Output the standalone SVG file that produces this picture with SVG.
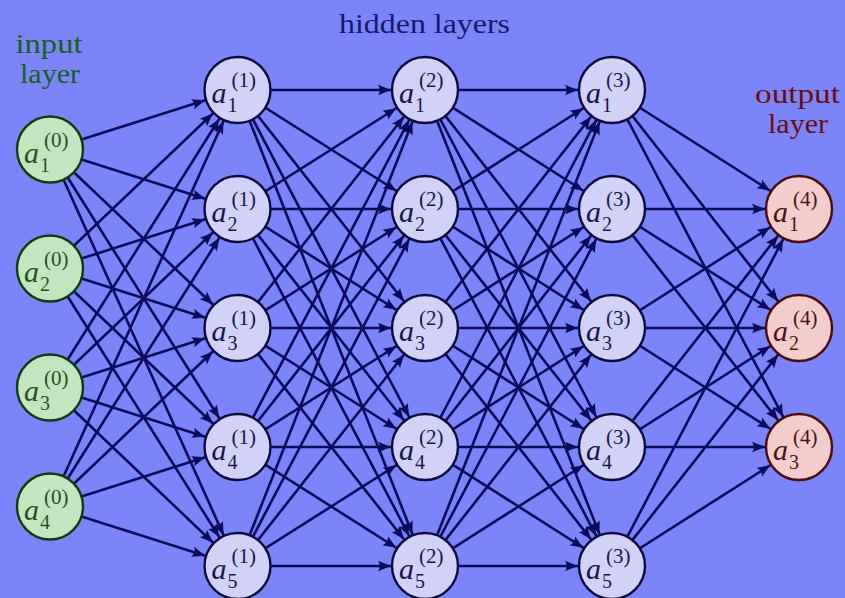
<svg xmlns="http://www.w3.org/2000/svg" width="845" height="598" viewBox="0 0 845 598" font-family="'Liberation Serif', 'Times New Roman', serif">
<style>
text{font-family:'Liberation Serif','Times New Roman',serif}
.lbl{font-size:27px}
.a{font-style:italic;font-size:30px}
.s{font-size:20px}
.p{font-size:21px}
.in circle{fill:#c3e6c1;stroke:#0c3d0c;stroke-width:2.4}
.in text{fill:#1d561d}
.hd circle{fill:#d1d2f5;stroke:#0c0c3c;stroke-width:2.4}
.hd text{fill:#16164e}
.out circle{fill:#f3cdcc;stroke:#4a0b0b;stroke-width:2.4}
.out text{fill:#4e1010}
#edges line{stroke:#0c0c5e;stroke-width:2.6;marker-end:url(#arr)}
</style>
<defs>
<marker id="arr" markerUnits="userSpaceOnUse" orient="auto" overflow="visible" refX="0" refY="0" markerWidth="1" markerHeight="1">
<path d="M-34,0 L-47,-5.2 Q-43.5,0 -47,5.2 Z" fill="#0c0c5e"/>
</marker>
</defs>
<rect width="845" height="598" fill="#7b85f9"/>
<text class="lbl" x="49" y="53" text-anchor="middle" fill="#1b5e1b" textLength="67" lengthAdjust="spacingAndGlyphs">input</text>
<text class="lbl" x="50" y="83" text-anchor="middle" fill="#1b5e1b" textLength="60" lengthAdjust="spacingAndGlyphs">layer</text>
<text class="lbl" x="424.5" y="33" text-anchor="middle" fill="#17176e" textLength="171" lengthAdjust="spacingAndGlyphs">hidden layers</text>
<text class="lbl" x="797.5" y="103" text-anchor="middle" fill="#6a0d0d" textLength="85" lengthAdjust="spacingAndGlyphs">output</text>
<text class="lbl" x="798" y="133" text-anchor="middle" fill="#6a0d0d" textLength="60" lengthAdjust="spacingAndGlyphs">layer</text>
<g id="edges">
<line x1="50" y1="149.5" x2="237.5" y2="90"/><line x1="50" y1="149.5" x2="237.5" y2="209"/><line x1="50" y1="149.5" x2="237.5" y2="328"/><line x1="50" y1="149.5" x2="237.5" y2="447"/><line x1="50" y1="149.5" x2="237.5" y2="566"/>
<line x1="50" y1="268.5" x2="237.5" y2="90"/><line x1="50" y1="268.5" x2="237.5" y2="209"/><line x1="50" y1="268.5" x2="237.5" y2="328"/><line x1="50" y1="268.5" x2="237.5" y2="447"/><line x1="50" y1="268.5" x2="237.5" y2="566"/>
<line x1="50" y1="387.5" x2="237.5" y2="90"/><line x1="50" y1="387.5" x2="237.5" y2="209"/><line x1="50" y1="387.5" x2="237.5" y2="328"/><line x1="50" y1="387.5" x2="237.5" y2="447"/><line x1="50" y1="387.5" x2="237.5" y2="566"/>
<line x1="50" y1="506.5" x2="237.5" y2="90"/><line x1="50" y1="506.5" x2="237.5" y2="209"/><line x1="50" y1="506.5" x2="237.5" y2="328"/><line x1="50" y1="506.5" x2="237.5" y2="447"/><line x1="50" y1="506.5" x2="237.5" y2="566"/>
<line x1="237.5" y1="90" x2="425" y2="90"/><line x1="237.5" y1="90" x2="425" y2="209"/><line x1="237.5" y1="90" x2="425" y2="328"/><line x1="237.5" y1="90" x2="425" y2="447"/><line x1="237.5" y1="90" x2="425" y2="566"/>
<line x1="237.5" y1="209" x2="425" y2="90"/><line x1="237.5" y1="209" x2="425" y2="209"/><line x1="237.5" y1="209" x2="425" y2="328"/><line x1="237.5" y1="209" x2="425" y2="447"/><line x1="237.5" y1="209" x2="425" y2="566"/>
<line x1="237.5" y1="328" x2="425" y2="90"/><line x1="237.5" y1="328" x2="425" y2="209"/><line x1="237.5" y1="328" x2="425" y2="328"/><line x1="237.5" y1="328" x2="425" y2="447"/><line x1="237.5" y1="328" x2="425" y2="566"/>
<line x1="237.5" y1="447" x2="425" y2="90"/><line x1="237.5" y1="447" x2="425" y2="209"/><line x1="237.5" y1="447" x2="425" y2="328"/><line x1="237.5" y1="447" x2="425" y2="447"/><line x1="237.5" y1="447" x2="425" y2="566"/>
<line x1="237.5" y1="566" x2="425" y2="90"/><line x1="237.5" y1="566" x2="425" y2="209"/><line x1="237.5" y1="566" x2="425" y2="328"/><line x1="237.5" y1="566" x2="425" y2="447"/><line x1="237.5" y1="566" x2="425" y2="566"/>
<line x1="425" y1="90" x2="612" y2="90"/><line x1="425" y1="90" x2="612" y2="209"/><line x1="425" y1="90" x2="612" y2="328"/><line x1="425" y1="90" x2="612" y2="447"/><line x1="425" y1="90" x2="612" y2="566"/>
<line x1="425" y1="209" x2="612" y2="90"/><line x1="425" y1="209" x2="612" y2="209"/><line x1="425" y1="209" x2="612" y2="328"/><line x1="425" y1="209" x2="612" y2="447"/><line x1="425" y1="209" x2="612" y2="566"/>
<line x1="425" y1="328" x2="612" y2="90"/><line x1="425" y1="328" x2="612" y2="209"/><line x1="425" y1="328" x2="612" y2="328"/><line x1="425" y1="328" x2="612" y2="447"/><line x1="425" y1="328" x2="612" y2="566"/>
<line x1="425" y1="447" x2="612" y2="90"/><line x1="425" y1="447" x2="612" y2="209"/><line x1="425" y1="447" x2="612" y2="328"/><line x1="425" y1="447" x2="612" y2="447"/><line x1="425" y1="447" x2="612" y2="566"/>
<line x1="425" y1="566" x2="612" y2="90"/><line x1="425" y1="566" x2="612" y2="209"/><line x1="425" y1="566" x2="612" y2="328"/><line x1="425" y1="566" x2="612" y2="447"/><line x1="425" y1="566" x2="612" y2="566"/>
<line x1="612" y1="90" x2="799" y2="209"/><line x1="612" y1="90" x2="799" y2="328"/><line x1="612" y1="90" x2="799" y2="447"/>
<line x1="612" y1="209" x2="799" y2="209"/><line x1="612" y1="209" x2="799" y2="328"/><line x1="612" y1="209" x2="799" y2="447"/>
<line x1="612" y1="328" x2="799" y2="209"/><line x1="612" y1="328" x2="799" y2="328"/><line x1="612" y1="328" x2="799" y2="447"/>
<line x1="612" y1="447" x2="799" y2="209"/><line x1="612" y1="447" x2="799" y2="328"/><line x1="612" y1="447" x2="799" y2="447"/>
<line x1="612" y1="566" x2="799" y2="209"/><line x1="612" y1="566" x2="799" y2="328"/><line x1="612" y1="566" x2="799" y2="447"/>
</g>
<g id="a0_1" class="in" transform="translate(50,149.5)"><circle r="33"/><text class="a" x="-26" y="13">a</text><text class="s" x="-10" y="22">1</text><text class="p" x="-6" y="-3">(0)</text></g>
<g id="a0_2" class="in" transform="translate(50,268.5)"><circle r="33"/><text class="a" x="-26" y="13">a</text><text class="s" x="-10" y="22">2</text><text class="p" x="-6" y="-3">(0)</text></g>
<g id="a0_3" class="in" transform="translate(50,387.5)"><circle r="33"/><text class="a" x="-26" y="13">a</text><text class="s" x="-10" y="22">3</text><text class="p" x="-6" y="-3">(0)</text></g>
<g id="a0_4" class="in" transform="translate(50,506.5)"><circle r="33"/><text class="a" x="-26" y="13">a</text><text class="s" x="-10" y="22">4</text><text class="p" x="-6" y="-3">(0)</text></g>
<g id="a1_1" class="hd" transform="translate(237.5,90)"><circle r="33"/><text class="a" x="-26" y="13">a</text><text class="s" x="-10" y="22">1</text><text class="p" x="-6" y="-3">(1)</text></g>
<g id="a1_2" class="hd" transform="translate(237.5,209)"><circle r="33"/><text class="a" x="-26" y="13">a</text><text class="s" x="-10" y="22">2</text><text class="p" x="-6" y="-3">(1)</text></g>
<g id="a1_3" class="hd" transform="translate(237.5,328)"><circle r="33"/><text class="a" x="-26" y="13">a</text><text class="s" x="-10" y="22">3</text><text class="p" x="-6" y="-3">(1)</text></g>
<g id="a1_4" class="hd" transform="translate(237.5,447)"><circle r="33"/><text class="a" x="-26" y="13">a</text><text class="s" x="-10" y="22">4</text><text class="p" x="-6" y="-3">(1)</text></g>
<g id="a1_5" class="hd" transform="translate(237.5,566)"><circle r="33"/><text class="a" x="-26" y="13">a</text><text class="s" x="-10" y="22">5</text><text class="p" x="-6" y="-3">(1)</text></g>
<g id="a2_1" class="hd" transform="translate(425,90)"><circle r="33"/><text class="a" x="-26" y="13">a</text><text class="s" x="-10" y="22">1</text><text class="p" x="-6" y="-3">(2)</text></g>
<g id="a2_2" class="hd" transform="translate(425,209)"><circle r="33"/><text class="a" x="-26" y="13">a</text><text class="s" x="-10" y="22">2</text><text class="p" x="-6" y="-3">(2)</text></g>
<g id="a2_3" class="hd" transform="translate(425,328)"><circle r="33"/><text class="a" x="-26" y="13">a</text><text class="s" x="-10" y="22">3</text><text class="p" x="-6" y="-3">(2)</text></g>
<g id="a2_4" class="hd" transform="translate(425,447)"><circle r="33"/><text class="a" x="-26" y="13">a</text><text class="s" x="-10" y="22">4</text><text class="p" x="-6" y="-3">(2)</text></g>
<g id="a2_5" class="hd" transform="translate(425,566)"><circle r="33"/><text class="a" x="-26" y="13">a</text><text class="s" x="-10" y="22">5</text><text class="p" x="-6" y="-3">(2)</text></g>
<g id="a3_1" class="hd" transform="translate(612,90)"><circle r="33"/><text class="a" x="-26" y="13">a</text><text class="s" x="-10" y="22">1</text><text class="p" x="-6" y="-3">(3)</text></g>
<g id="a3_2" class="hd" transform="translate(612,209)"><circle r="33"/><text class="a" x="-26" y="13">a</text><text class="s" x="-10" y="22">2</text><text class="p" x="-6" y="-3">(3)</text></g>
<g id="a3_3" class="hd" transform="translate(612,328)"><circle r="33"/><text class="a" x="-26" y="13">a</text><text class="s" x="-10" y="22">3</text><text class="p" x="-6" y="-3">(3)</text></g>
<g id="a3_4" class="hd" transform="translate(612,447)"><circle r="33"/><text class="a" x="-26" y="13">a</text><text class="s" x="-10" y="22">4</text><text class="p" x="-6" y="-3">(3)</text></g>
<g id="a3_5" class="hd" transform="translate(612,566)"><circle r="33"/><text class="a" x="-26" y="13">a</text><text class="s" x="-10" y="22">5</text><text class="p" x="-6" y="-3">(3)</text></g>
<g id="a4_1" class="out" transform="translate(799,209)"><circle r="33"/><text class="a" x="-26" y="13">a</text><text class="s" x="-10" y="22">1</text><text class="p" x="-6" y="-3">(4)</text></g>
<g id="a4_2" class="out" transform="translate(799,328)"><circle r="33"/><text class="a" x="-26" y="13">a</text><text class="s" x="-10" y="22">2</text><text class="p" x="-6" y="-3">(4)</text></g>
<g id="a4_3" class="out" transform="translate(799,447)"><circle r="33"/><text class="a" x="-26" y="13">a</text><text class="s" x="-10" y="22">3</text><text class="p" x="-6" y="-3">(4)</text></g>
</svg>
